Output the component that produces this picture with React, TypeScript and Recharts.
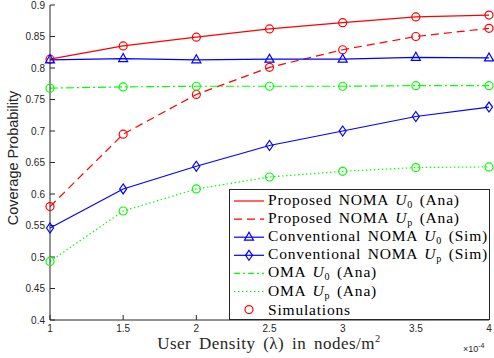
import React from 'react';
import { LineChart, Line, XAxis, YAxis } from 'recharts';

const xVals = [1, 1.5, 2, 2.5, 3, 3.5, 4];
const proposedU0 = [0.814, 0.835, 0.849, 0.862, 0.872, 0.881, 0.884];
const proposedUp = [0.58, 0.695, 0.758, 0.801, 0.829, 0.85, 0.863];
const convU0 = [0.813, 0.815, 0.813, 0.814, 0.814, 0.817, 0.816];
const convUp = [0.546, 0.608, 0.644, 0.677, 0.7, 0.723, 0.738];
const omaU0 = [0.768, 0.77, 0.771, 0.771, 0.771, 0.772, 0.772];
const omaUp = [0.493, 0.573, 0.608, 0.627, 0.636, 0.642, 0.643];

const xTicks = [1, 1.5, 2, 2.5, 3, 3.5, 4];
const yTicks = [0.4, 0.45, 0.5, 0.55, 0.6, 0.65, 0.7, 0.75, 0.8, 0.85, 0.9];

const data = xVals.map((x, i) => ({
  x,
  proposedU0: proposedU0[i],
  proposedUp: proposedUp[i],
  convU0: convU0[i],
  convUp: convUp[i],
  omaU0: omaU0[i],
  omaUp: omaUp[i],
}));

const RED = '#ff0000';
const BLUE = '#0000ff';
const GREEN = '#00ff00';
const AXIS = '#262626';

type Marker = 'circle' | 'triangle' | 'diamond' | 'none';

const series: { key: string; color: string; dash?: string; marker: Marker }[] = [
  { key: 'proposedU0', color: RED, marker: 'circle' },
  { key: 'proposedUp', color: RED, dash: '8 5', marker: 'circle' },
  { key: 'convU0', color: BLUE, marker: 'triangle' },
  { key: 'convUp', color: BLUE, marker: 'diamond' },
  { key: 'omaU0', color: GREEN, dash: '8 3 2 3', marker: 'circle' },
  { key: 'omaUp', color: GREEN, dash: '1.5 2.5', marker: 'circle' },
];

const legendRows: { name: string; sub: string; tail: string; color: string; dash?: string; marker: Marker; line: boolean }[] = [
  { name: 'Proposed NOMA ', sub: '0', tail: ' (Ana)', color: RED, marker: 'none', line: true },
  { name: 'Proposed NOMA ', sub: 'p', tail: ' (Ana)', color: RED, dash: '8 5', marker: 'none', line: true },
  { name: 'Conventional NOMA ', sub: '0', tail: ' (Sim)', color: BLUE, marker: 'triangle', line: true },
  { name: 'Conventional NOMA ', sub: 'p', tail: ' (Sim)', color: BLUE, marker: 'diamond', line: true },
  { name: 'OMA ', sub: '0', tail: ' (Ana)', color: GREEN, dash: '6 3 2 3', marker: 'none', line: true },
  { name: 'OMA ', sub: 'p', tail: ' (Ana)', color: GREEN, dash: '1.5 2.5', marker: 'none', line: true },
  { name: 'Simulations', sub: '', tail: '', color: RED, marker: 'circle', line: false },
];

function drawMarker(marker: Marker, cx: number, cy: number, color: string, key?: string) {
  if (marker === 'circle') {
    return <circle key={key} cx={cx} cy={cy} r={4} fill="none" stroke={color} strokeWidth={1.2} />;
  }
  if (marker === 'triangle') {
    return (
      <polygon
        key={key}
        points={`${cx},${cy - 5} ${cx - 4.5},${cy + 3} ${cx + 4.5},${cy + 3}`}
        fill="none"
        stroke={color}
        strokeWidth={1.2}
      />
    );
  }
  if (marker === 'diamond') {
    return (
      <polygon
        key={key}
        points={`${cx},${cy - 5} ${cx + 3.5},${cy} ${cx},${cy + 5} ${cx - 3.5},${cy}`}
        fill="none"
        stroke={color}
        strokeWidth={1.2}
      />
    );
  }
  return <g key={key} />;
}

const tickStyle = { fontFamily: '"Liberation Sans", Arial, sans-serif', fontSize: 10, fill: AXIS };
const serif = '"Liberation Serif", "DejaVu Serif", serif';

export default function App() {
  return (
    <div style={{ position: 'absolute', left: 0, top: 0, width: 494, height: 358, background: '#fff' }}>
      <LineChart width={494} height={358} data={data} margin={{ top: 5, right: 5, bottom: 8, left: 6 }}>
        <XAxis
          dataKey="x"
          type="number"
          domain={[1, 4]}
          ticks={xTicks}
          height={30}
          stroke={AXIS}
          tickSize={-5}
          tickMargin={10}
          tick={tickStyle}
          interval={0}
        />
        <XAxis
          xAxisId="top"
          dataKey="x"
          orientation="top"
          type="number"
          domain={[1, 4]}
          ticks={xTicks}
          height={0}
          stroke={AXIS}
          tickSize={-5}
          tickFormatter={() => ''}
          interval={0}
        />
        <YAxis
          type="number"
          domain={[0.4, 0.9]}
          ticks={yTicks}
          width={44}
          stroke={AXIS}
          tickSize={-5}
          tickMargin={10}
          tick={tickStyle}
          interval={0}
        />
        <YAxis
          yAxisId="right"
          orientation="right"
          type="number"
          domain={[0.4, 0.9]}
          ticks={yTicks}
          width={0}
          stroke={AXIS}
          tickSize={-5}
          tickFormatter={() => ''}
          interval={0}
        />
        {series.map((s) => (
          <Line
            key={s.key}
            dataKey={s.key}
            type="linear"
            stroke={s.color}
            strokeWidth={1.2}
            strokeDasharray={s.dash}
            isAnimationActive={false}
            activeDot={false}
            dot={(p: any) => drawMarker(s.marker, p.cx, p.cy, s.color, `${s.key}-${p.index}`)}
          />
        ))}
      </LineChart>

      {/* y label */}
      <div
        style={{
          position: 'absolute',
          left: 13,
          top: 158,
          transform: 'translate(-50%, -50%) rotate(-90deg)',
          fontFamily: '"Liberation Sans", Arial, sans-serif',
          fontSize: 14.5,
          color: AXIS,
          whiteSpace: 'nowrap',
        }}
      >
        Coverage Probability
      </div>

      {/* x label */}
      <div
        style={{
          position: 'absolute',
          left: 269,
          top: 345,
          transform: 'translate(-50%, -50%)',
          fontFamily: serif,
          fontSize: 17,
          letterSpacing: 0.5,
          wordSpacing: 3,
          color: AXIS,
          whiteSpace: 'nowrap',
          lineHeight: '18px',
        }}
      >
        User Density (λ) in nodes/m
        <span style={{ fontSize: 10.5, position: 'relative', top: -7 }}>2</span>
      </div>

      <div
        style={{
          position: 'absolute',
          left: 463,
          top: 342,
          fontFamily: '"Liberation Sans", Arial, sans-serif',
          fontSize: 9,
          color: AXIS,
          whiteSpace: 'nowrap',
        }}
      >
        ×10<sup style={{ fontSize: 7 }}>-4</sup>
      </div>

      {/* legend */}
      <div
        style={{
          position: 'absolute',
          left: 229,
          top: 189,
          width: 259,
          height: 129,
          background: '#fff',
          border: `1px solid ${AXIS}`,
        }}
      >
        <svg width={40} height={129} style={{ position: 'absolute', left: 0, top: 0 }}>
          {legendRows.map((r, i) => {
            const cy = 11 + i * 18.1;
            return (
              <g key={i}>
                {r.line && (
                  <line x1={4} x2={34} y1={cy} y2={cy} stroke={r.color} strokeWidth={1.2} strokeDasharray={r.dash} />
                )}
                {drawMarker(r.marker, 19, cy, r.color)}
              </g>
            );
          })}
        </svg>
        {legendRows.map((r, i) => (
          <div
            key={i}
            style={{
              position: 'absolute',
              left: 38,
              top: 11 + i * 18.1,
              transform: 'translateY(-50%)',
              fontFamily: serif,
              fontSize: 15.5,
              letterSpacing: 0.8,
              wordSpacing: 2,
              color: '#000',
              whiteSpace: 'nowrap',
              lineHeight: '18px',
            }}
          >
            {r.name}
            {r.sub && (
              <>
                <i>U</i>
                <span style={{ fontSize: 10, position: 'relative', top: 3 }}>{r.sub}</span>
              </>
            )}
            {r.tail}
          </div>
        ))}
      </div>
    </div>
  );
}
